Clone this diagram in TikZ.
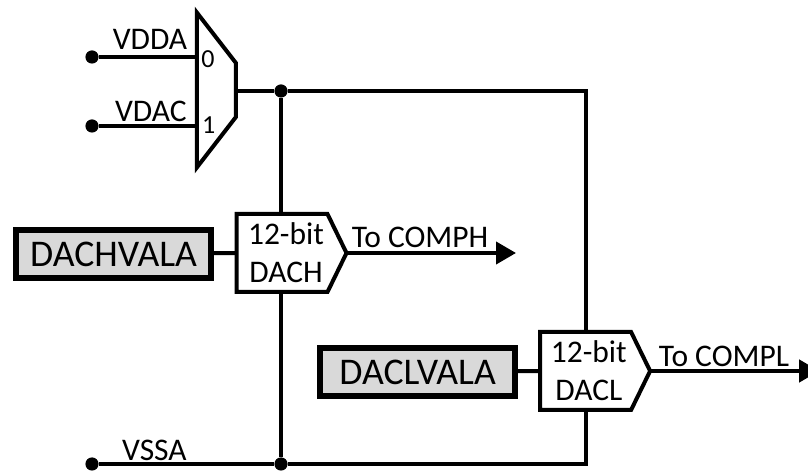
\documentclass[tikz,border=0pt]{standalone}
\usepackage{fontspec}
\setmainfont{Carlito}
\usepackage{xcolor}
\definecolor{regfill}{RGB}{217,217,217}
\usetikzlibrary{arrows.meta,positioning,shapes.geometric,shapes.symbols}

\begin{document}
\begin{tikzpicture}[
  every node/.style={font=\fontsize{22.4}{27}\selectfont,inner sep=0pt,outer sep=0pt},
  regblock/.style={draw,line width=0.15cm,fill=regfill,minimum width=4.875cm,minimum height=1.2cm,
                  font=\fontsize{26.8}{30}\selectfont},
  dacblock/.style={draw,line width=0.1cm,fill=white,signal,signal to=east,signal from=nowhere,inner sep=1pt,
                  signal pointer angle=128,minimum width=2.75cm,minimum height=1.95cm,align=center},
  muxblock/.style={draw,line width=0.1cm,fill=white,trapezium,shape border rotate=270,inner sep=1pt,
                  trapezium angle=47,trapezium stretches=true,minimum width=3.87cm,minimum height=0.975cm},
  term/.style={circle,fill=black,minimum size=0.33cm},
  junct/.style={circle,fill=black,minimum size=0.33cm},
  muxnum/.style={font=\fontsize{18.5}{20}\selectfont},
  wire/.style={line width=0.1cm},
  arr/.style={-{Triangle[length=0.5cm,width=0.55cm]},line width=0.1cm},
]
  \useasboundingbox (0,0) rectangle (20.2,11.775);

  % Reference mux
  \node[term] (vdda) at (2.3,10.35) {};
  \node[term] (vdac) at (2.3,8.625) {};
  \node[muxblock] (mux) at (5.41,9.525) {};
  \node (vddalbl) at (3.75,10.8) {VDDA};
  \node (vdaclbl) at (3.77,9) {VDAC};
  \node[muxnum] (mux0) at (5.2,10.3) {0};
  \node[muxnum] (mux1) at (5.22,8.65) {1};

  % Junctions
  \node[junct] (jtop) at (7.025,9.5) {};
  \node[junct] (jbot) at (7.025,0.175) {};
  \node[term] (vssa) at (2.3,0.175) {};
  \node (vssalbl) at (3.86,0.52) {VSSA};
  \coordinate (cortop) at (14.64,9.5);
  \coordinate (corbot) at (14.64,0.175);

  % DAC high
  \node[dacblock] (dach) at (7.05,5.45) {};
  \node (dachtxt) at (7.15,5.45) [align=center] {12-bit\\DACH};
  \node[regblock] (dachval) at (2.84,5.425) {DACHVALA};
  \coordinate (comph) at (12.9,5.45);
  \node (comphlbl) at (10.5,5.85) {To COMPH};

  % DAC low
  \node[dacblock] (dacl) at (14.64,2.5) {};
  \node (dacltxt) at (14.72,2.5) [align=center] {12-bit\\DACL};
  \node[regblock] (daclval) at (10.44,2.475) {DACLVALA};
  \coordinate (compl) at (20.48,2.5);
  \node (compllbl) at (18.1,2.87) {To COMPL};

  % Wires
  \draw[wire] (vdda) -- (vdda -| mux.bottom side);
  \draw[wire] (vdac) -- (vdac -| mux.bottom side);
  \draw[wire] (jtop -| mux.top side) -- (jtop) -- (cortop) -- (dacl.north -| cortop);
  \draw[wire] (jtop) -- (dach.north -| jtop);
  \draw[wire] (dach.south -| jtop) -- (jbot);
  \draw[wire] (vssa) -- (jbot) -- (corbot) -- (dacl.south -| corbot);
  \draw[wire] (dachval) -- (dach.west);
  \draw[wire] (daclval) -- (dacl.west);
  \draw[arr] (dach.east) -- (comph);
  \draw[arr] (dacl.east) -- (compl);
\end{tikzpicture}
\end{document}
